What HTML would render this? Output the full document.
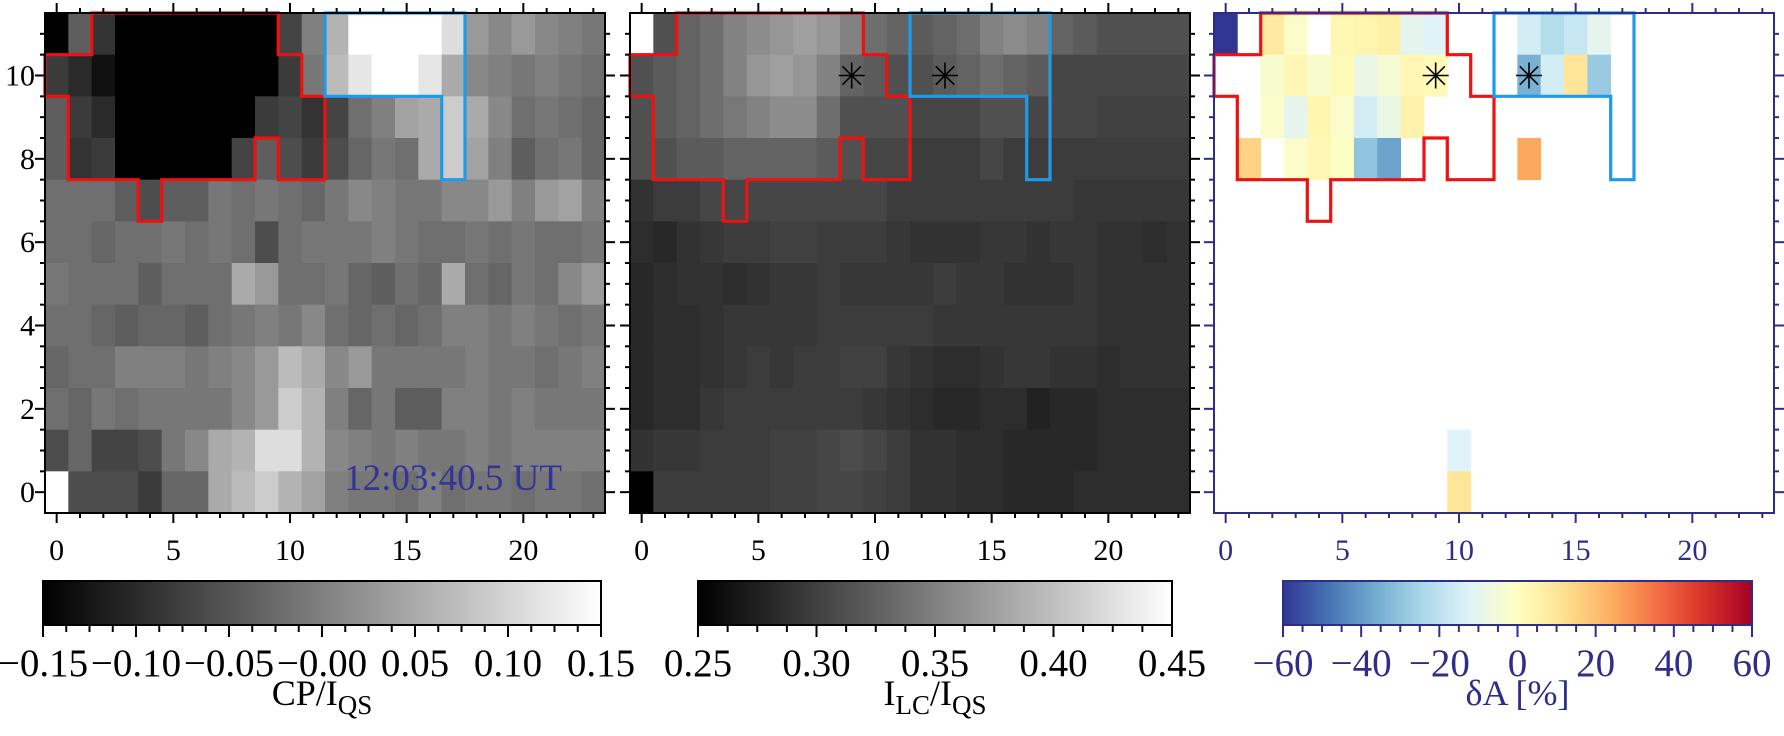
<!DOCTYPE html>
<html><head><meta charset="utf-8">
<style>
html,body{margin:0;padding:0;background:#fff;}
svg{display:block;font-family:"Liberation Serif",serif;}
</style></head>
<body>
<svg id="fig" width="1784" height="736" viewBox="0 0 1784 736" xmlns="http://www.w3.org/2000/svg"></svg>
<script>
// ---- data ----
// rows listed from y=11 (top) down to y=0
const cpRows = [
[-0.15,-0.04,-0.09,-0.15,-0.15,-0.15,-0.15,-0.15,-0.15,-0.15,-0.07,0.00,0.06,0.15,0.15,0.15,0.15,0.11,0.03,0.01,0.03,0.01,0.00,-0.01],
[-0.08,-0.10,-0.13,-0.15,-0.15,-0.15,-0.15,-0.15,-0.15,-0.15,-0.08,-0.01,0.07,0.12,0.15,0.15,0.12,0.05,0.01,0.00,-0.01,0.00,-0.01,-0.02],
[-0.04,-0.08,-0.10,-0.15,-0.15,-0.15,-0.15,-0.15,-0.15,-0.08,-0.07,-0.09,-0.07,-0.02,0.00,0.04,0.05,0.09,0.05,0.01,-0.02,-0.01,-0.02,-0.03],
[-0.04,-0.09,-0.08,-0.15,-0.15,-0.15,-0.15,-0.15,-0.07,-0.04,-0.06,-0.08,-0.06,-0.03,-0.01,-0.02,0.05,0.09,0.04,0.00,-0.04,-0.02,-0.01,-0.03],
[-0.02,-0.02,-0.02,-0.04,-0.06,-0.04,-0.04,-0.01,-0.02,-0.01,-0.02,-0.03,-0.01,0.01,0.00,-0.01,-0.01,0.01,0.01,0.03,0.00,0.03,0.04,0.00],
[-0.02,-0.02,-0.03,-0.02,-0.02,-0.01,-0.02,-0.01,-0.02,-0.06,-0.02,-0.01,-0.01,-0.01,0.00,-0.01,-0.02,-0.02,-0.01,-0.02,-0.01,-0.02,-0.02,-0.01],
[-0.01,-0.02,-0.02,-0.02,-0.04,-0.02,-0.02,-0.02,0.05,0.03,-0.02,-0.02,-0.01,-0.03,-0.04,-0.02,-0.03,0.05,-0.02,-0.03,-0.01,-0.02,0.01,0.03],
[-0.02,-0.02,-0.03,-0.04,-0.03,-0.03,-0.04,-0.02,-0.01,0.00,-0.01,0.01,-0.02,-0.03,-0.02,-0.03,-0.02,0.00,0.00,-0.01,0.00,-0.01,-0.02,-0.01],
[-0.03,-0.02,-0.02,0.00,0.00,0.00,-0.01,0.00,0.01,0.03,0.07,0.05,0.01,0.03,-0.01,-0.01,-0.01,-0.01,0.00,-0.01,-0.01,-0.02,-0.01,0.00],
[-0.02,-0.03,-0.01,-0.02,-0.01,-0.01,-0.01,-0.01,0.01,0.03,0.09,0.06,0.00,-0.03,-0.01,-0.04,-0.04,0.00,0.00,-0.01,0.00,-0.01,-0.01,-0.01],
[-0.06,-0.03,-0.07,-0.07,-0.06,-0.01,0.01,0.05,0.06,0.11,0.11,0.06,0.01,0.00,-0.01,0.00,-0.01,-0.01,0.00,-0.01,0.00,0.00,0.00,0.00],
[0.15,-0.06,-0.06,-0.06,-0.08,-0.03,-0.03,0.05,0.07,0.09,0.06,0.04,0.00,-0.01,-0.01,-0.02,0.00,-0.02,-0.01,-0.01,-0.02,-0.01,-0.01,-0.02]
];
const ilcRows = [
[0.45,0.313,0.328,0.336,0.352,0.36,0.368,0.375,0.368,0.352,0.336,0.328,0.321,0.328,0.336,0.352,0.36,0.352,0.328,0.321,0.313,0.313,0.313,0.313],
[0.313,0.321,0.328,0.336,0.352,0.368,0.375,0.368,0.352,0.328,0.321,0.313,0.313,0.321,0.328,0.336,0.328,0.321,0.305,0.305,0.305,0.305,0.305,0.305],
[0.313,0.321,0.328,0.336,0.344,0.352,0.36,0.36,0.336,0.313,0.313,0.313,0.305,0.305,0.305,0.313,0.313,0.305,0.305,0.305,0.301,0.301,0.301,0.301],
[0.313,0.313,0.321,0.321,0.328,0.328,0.328,0.328,0.321,0.313,0.305,0.305,0.297,0.297,0.297,0.305,0.297,0.297,0.297,0.297,0.297,0.297,0.297,0.297],
[0.289,0.297,0.297,0.305,0.305,0.305,0.305,0.305,0.305,0.305,0.305,0.297,0.297,0.297,0.297,0.297,0.297,0.297,0.297,0.293,0.293,0.293,0.293,0.293],
[0.285,0.281,0.289,0.293,0.297,0.297,0.301,0.301,0.297,0.297,0.297,0.293,0.289,0.289,0.289,0.293,0.293,0.289,0.293,0.293,0.289,0.289,0.285,0.289],
[0.281,0.285,0.289,0.289,0.285,0.289,0.293,0.293,0.297,0.293,0.293,0.293,0.293,0.297,0.293,0.293,0.289,0.289,0.289,0.293,0.289,0.289,0.289,0.289],
[0.281,0.285,0.285,0.289,0.293,0.293,0.293,0.293,0.297,0.297,0.297,0.297,0.297,0.293,0.293,0.293,0.293,0.293,0.293,0.293,0.289,0.289,0.289,0.289],
[0.281,0.285,0.285,0.289,0.293,0.297,0.293,0.297,0.297,0.301,0.301,0.293,0.289,0.285,0.285,0.289,0.293,0.293,0.289,0.289,0.285,0.289,0.289,0.289],
[0.281,0.285,0.285,0.293,0.297,0.297,0.297,0.297,0.297,0.297,0.293,0.289,0.285,0.281,0.281,0.285,0.285,0.277,0.281,0.281,0.285,0.285,0.285,0.285],
[0.289,0.293,0.293,0.297,0.297,0.297,0.301,0.301,0.305,0.309,0.305,0.297,0.289,0.289,0.285,0.285,0.281,0.281,0.281,0.281,0.285,0.285,0.285,0.285],
[0.25,0.297,0.297,0.297,0.297,0.297,0.301,0.301,0.305,0.305,0.301,0.297,0.289,0.289,0.285,0.285,0.281,0.281,0.281,0.285,0.285,0.285,0.285,0.285]
];
const dCol = [0,2,3,5,6,7,8,9,13,14,15,16, 2,3,4,5,6,7,8,9,13,14,15,16, 2,3,4,5,6,7,8, 1,3,4,5,6,7,13, 10,10];
const dRow = [11,11,11,11,11,11,11,11,11,11,11,11, 10,10,10,10,10,10,10,10,10,10,10,10, 9,9,9,9,9,9,9, 8,8,8,8,8,8,8, 1,0];
const dVal = [-60,8,-2,3,4,6,-10,-12,-15,-22,-18,-10, -3,3,-3,2,-8,-4,3,2,-35,-15,10,-28, -2,-10,4,-2,-15,-8,5, 15,-2,3,-1,-30,-38,25, -12,10];
const starX = [9,13];
const starY = [10,10];
const redContour = [[1.5,11.5],[9.5,11.5],[9.5,10.5],[10.5,10.5],[10.5,9.5],[11.5,9.5],[11.5,7.5],[9.5,7.5],[9.5,8.5],[8.5,8.5],[8.5,7.5],[4.5,7.5],[4.5,6.5],[3.5,6.5],[3.5,7.5],[0.5,7.5],[0.5,9.5],[-0.5,9.5],[-0.5,10.5],[1.5,10.5]];
const blueContour = [[11.5,11.5],[17.5,11.5],[17.5,7.5],[16.5,7.5],[16.5,9.5],[11.5,9.5]];
const xTicks = [0,5,10,15,20];
const yTicks = [0,2,4,6,8,10];
const cb1Ticks = ["−0.15","−0.10","−0.05","−0.00","0.05","0.10","0.15"];
const cb2Ticks = ["0.25","0.30","0.35","0.40","0.45"];
const cb3Ticks = ["−60","−40","−20","0","20","40","60"];

// ---- drawing ----
const NS="http://www.w3.org/2000/svg";
const svg=document.getElementById('fig');
function el(tag,attrs,parent){const e=document.createElementNS(NS,tag);for(const k in attrs)e.setAttribute(k,attrs[k]);(parent||svg).appendChild(e);return e;}
const PT=13, PH=500, PW=560, NX=24, NY=12;
const panelLeft=[45,630,1214];
const cw=PW/NX, ch=PH/NY;
function sx(p,x){return panelLeft[p]+(x+0.5)*cw;}
function sy(y){return PT+(11.5-y)*ch;}
function gray(t){t=Math.max(0,Math.min(1,t));const g=Math.round(t*255);return `rgb(${g},${g},${g})`;}
const rdyl=['#313695','#4575b4','#74add1','#abd9e9','#e0f3f8','#ffffbf','#fee090','#fdae61','#f46d43','#d73027','#a50026'];
function hex(h){return [1,3,5].map(i=>parseInt(h.substr(i,2),16));}
function rdylbu(v){let t=(v+60)/120*10;t=Math.max(0,Math.min(10,t));const i=Math.min(9,Math.floor(t)),f=t-i;const a=hex(rdyl[i]),b=hex(rdyl[i+1]);return `rgb(${a.map((c,k)=>Math.round(c+(b[k]-c)*f)).join(',')})`;}

function drawGrid(p,rows,cmap,name){
  const g=el('g',{});
  
  
  rows.forEach((r,ri)=>{const y=11-ri;r.forEach((v,x)=>{
    const c=el('rect',{x:sx(p,x-0.5).toFixed(2),y:sy(y+0.5).toFixed(2),width:(cw+0.6).toFixed(2),height:(ch+0.6).toFixed(2),fill:cmap(v)},g);
    
    
  });});
}
drawGrid(0,cpRows,v=>gray((v+0.15)/0.3),'cp-heatmap');
drawGrid(1,ilcRows,v=>gray((v-0.25)/0.2),'ilc-heatmap');
const g3=el('g',{});


dVal.forEach((v,i)=>{
  const c=el('rect',{x:sx(2,dCol[i]-0.5).toFixed(2),y:sy(dRow[i]+0.5).toFixed(2),width:(cw+0.4).toFixed(2),height:(ch+0.4).toFixed(2),fill:rdylbu(v)},g3);
  
  
});

function contour(p,pts,col,name){
  const d=pts.map((q,i)=>(i?'L':'M')+sx(p,q[0]).toFixed(1)+' '+sy(q[1]).toFixed(1)).join(' ')+'Z';
  const e=el('path',{d:d,fill:'none',stroke:col,'stroke-width':3.2,'stroke-linejoin':'miter'});
  
  
}
for(let p=0;p<3;p++){contour(p,redContour,'#ee1111','red-contour');contour(p,blueContour,'#1e9be8','blue-contour');}
for(let p=1;p<3;p++){starX.forEach((x,i)=>{
  const cx=sx(p,x),cy=sy(starY[i]);const s=el('g',{stroke:'#000','stroke-width':1.6});
  
  
  for(let a=0;a<4;a++){const an=a*Math.PI/4;el('line',{x1:cx-13*Math.cos(an),y1:cy-13*Math.sin(an),x2:cx+13*Math.cos(an),y2:cy+13*Math.sin(an)},s);}
});}

// axes
for(let p=0;p<3;p++){
  const col=p==2?'#2e2e8a':'#000';
  const ax=el('g',{stroke:col,'stroke-width':2,fill:'none'});
  
  
  el('rect',{x:panelLeft[p],y:PT,width:PW,height:PH},ax);
  for(let x=0;x<=23;x++){const X=sx(p,x);const L=x%5==0?10:5;
    el('line',{x1:X,y1:PT+PH,x2:X,y2:PT+PH+L},ax);el('line',{x1:X,y1:PT,x2:X,y2:PT-L},ax);}
  for(let y=-0.5;y<=11.5;y+=0.5){if(y==-0.5||y==11.5)continue;const Y=sy(y);const L=(y%2==0)?10:5;
    el('line',{x1:panelLeft[p],y1:Y,x2:panelLeft[p]-L,y2:Y},ax);el('line',{x1:panelLeft[p]+PW,y1:Y,x2:panelLeft[p]+PW+L,y2:Y},ax);}
  xTicks.forEach(t=>{const e=el('text',{x:sx(p,t),y:560,'font-size':30,'text-anchor':'middle',fill:col});e.textContent=t;
    
    });
  if(p==0){yTicks.forEach(t=>{const e=el('text',{x:35,y:sy(t)+10,'font-size':30,'text-anchor':'end',fill:'#000'});e.textContent=t;
    
    });}
}
const ts=el('text',{x:562,y:490,'font-size':37,'text-anchor':'end',fill:'#33339a'});
ts.textContent='12:03:40.5 UT';



// colorbars
function colorbar(id,x0,x1,cmap,ticks,col,titleParts){
  const y0=581,y1=625;
  const defs=el('defs',{});const lg=el('linearGradient',{id:id,x1:0,x2:1,y1:0,y2:0},defs);
  for(let i=0;i<=20;i++){el('stop',{offset:i/20,'stop-color':cmap(i/20)},lg);}
  const r=el('rect',{x:x0,y:y0,width:x1-x0,height:y1-y0,fill:`url(#${id})`,stroke:col,'stroke-width':2});
  
  
  const n=(ticks.length-1)*4;const tg=el('g',{stroke:col,'stroke-width':2});
  for(let i=0;i<=n;i++){const X=x0+(x1-x0)*i/n;el('line',{x1:X,y1:y1,x2:X,y2:y1+(i%4==0?12:7)},tg);}
  ticks.forEach((t,i)=>{const e=el('text',{x:x0+(x1-x0)*i/(ticks.length-1),y:676,'font-size':39,'text-anchor':'middle',fill:col});e.textContent=t;
    
    });
  const tt=el('text',{x:(x0+x1)/2,y:705,'font-size':36,'text-anchor':'middle',fill:col});
  
  
  titleParts.forEach(tp=>{const s=el('tspan',tp.sub?{'font-size':27,dy:9}:(tp.up?{dy:-9}:{}),tt);s.textContent=tp.t;});
}
colorbar('cp-colorbar',43,601,t=>gray(t),cb1Ticks,'#000',[{t:'CP/I'},{t:'QS',sub:1}]);
colorbar('ilc-colorbar',698,1172,t=>gray(t),cb2Ticks,'#000',[{t:'I'},{t:'LC',sub:1},{t:'/I',up:1},{t:'QS',sub:1}]);
colorbar('delta-a-colorbar',1283,1752,t=>rdylbu(t*120-60),cb3Ticks,'#2e2e8a',[{t:'δA [%]'}]);
</script>
</body></html>
